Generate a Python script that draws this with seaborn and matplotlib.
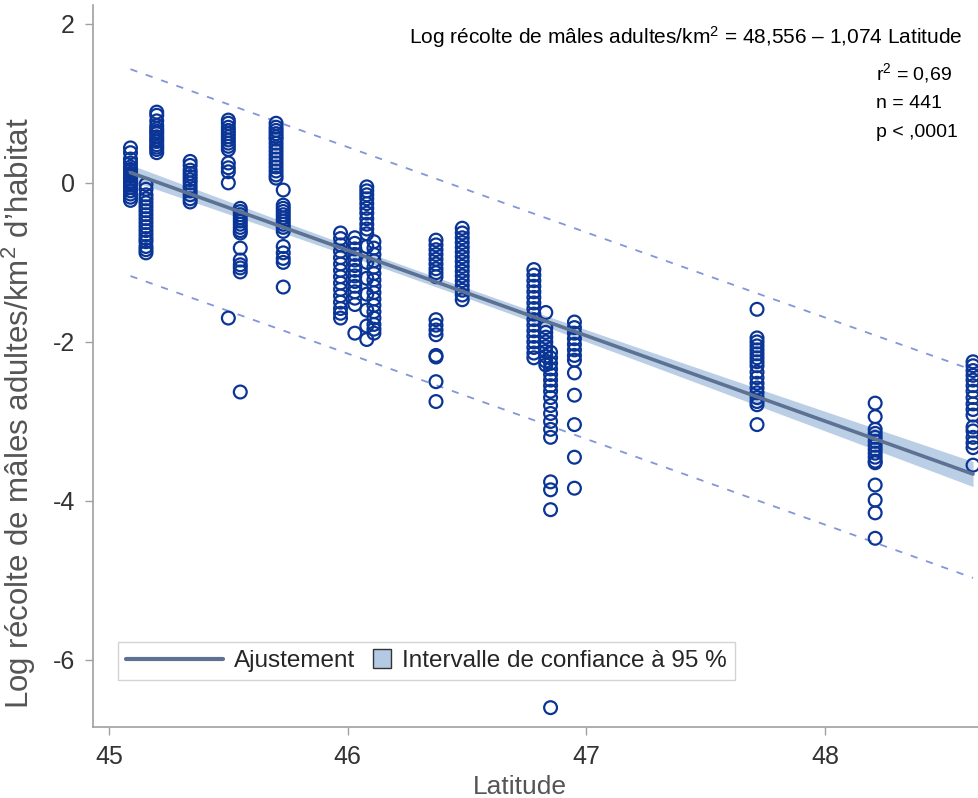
import numpy as np
import pandas as pd
import matplotlib
matplotlib.use('Agg')
import matplotlib.pyplot as plt
from matplotlib.lines import Line2D
from matplotlib.patches import Patch, Rectangle
from matplotlib.legend_handler import HandlerPatch
import seaborn as sns

# latitudes des sites et log récolte
latitudes = [45.09, 45.155, 45.20, 45.34, 45.50, 45.55, 45.70, 45.73, 45.97, 46.03,
             46.08, 46.11, 46.37, 46.48, 46.78, 46.83, 46.85, 46.95, 47.715, 48.21, 48.62]
recolte = [
    [0.44, 0.38, 0.30, 0.25, 0.20, 0.17, 0.15, 0.12, 0.10, 0.08, 0.05, 0.02, 0.0, -0.03, -0.06, -0.10, -0.14, -0.18, -0.22],
    [-0.02, -0.08, -0.15, -0.20, -0.25, -0.30, -0.35, -0.40, -0.45, -0.50, -0.55, -0.60, -0.65, -0.70, -0.74, -0.80, -0.84, -0.88],
    [0.89, 0.85, 0.78, 0.72, 0.68, 0.65, 0.62, 0.58, 0.55, 0.52, 0.48, 0.45, 0.42, 0.38],
    [0.27, 0.22, 0.16, 0.12, 0.08, 0.04, 0.0, -0.05, -0.10, -0.15, -0.20, -0.24],
    [0.79, 0.75, 0.70, 0.66, 0.62, 0.58, 0.54, 0.50, 0.46, 0.42, 0.25, 0.19, 0.14, 0.0, -1.70],
    [-0.32, -0.36, -0.40, -0.44, -0.48, -0.52, -0.56, -0.60, -0.63, -0.82, -0.97, -1.03, -1.07, -1.12, -2.63],
    [0.75, 0.70, 0.66, 0.62, 0.58, 0.55, 0.50, 0.45, 0.40, 0.35, 0.30, 0.25, 0.20, 0.15, 0.10, 0.06],
    [-0.09, -0.28, -0.32, -0.36, -0.40, -0.44, -0.48, -0.52, -0.56, -0.61, -0.80, -0.88, -0.95, -1.00, -1.31],
    [-0.63, -0.70, -0.78, -0.86, -0.94, -1.02, -1.10, -1.18, -1.26, -1.34, -1.42, -1.50, -1.58, -1.64, -1.70],
    [-0.69, -0.76, -0.83, -0.90, -0.97, -1.04, -1.10, -1.17, -1.24, -1.30, -1.37, -1.45, -1.53, -1.89],
    [-0.05, -0.10, -0.15, -0.20, -0.26, -0.32, -0.38, -0.45, -0.52, -0.58, -0.64, -0.80, -1.00, -1.20, -1.40, -1.60, -1.80, -1.97],
    [-0.74, -0.82, -0.90, -0.98, -1.06, -1.14, -1.22, -1.30, -1.38, -1.46, -1.54, -1.62, -1.70, -1.78, -1.84, -1.89],
    [-0.72, -0.78, -0.84, -0.90, -0.96, -1.02, -1.08, -1.13, -1.18, -1.72, -1.79, -1.85, -1.91, -2.17, -2.19, -2.50, -2.75],
    [-0.57, -0.63, -0.69, -0.75, -0.81, -0.87, -0.93, -0.99, -1.05, -1.11, -1.17, -1.23, -1.29, -1.35, -1.41, -1.47],
    [-1.09, -1.16, -1.23, -1.30, -1.37, -1.44, -1.51, -1.58, -1.65, -1.72, -1.79, -1.86, -1.93, -2.00, -2.07, -2.14, -2.20],
    [-1.63, -1.82, -1.88, -1.94, -2.00, -2.06, -2.12, -2.18, -2.24, -2.29],
    [-2.13, -2.20, -2.27, -2.34, -2.41, -2.48, -2.55, -2.62, -2.70, -2.80, -2.90, -3.00, -3.10, -3.20, -3.76, -3.86, -4.11, -6.60],
    [-1.75, -1.82, -1.89, -1.96, -2.03, -2.10, -2.17, -2.23, -2.39, -2.67, -3.04, -3.45, -3.84],
    [-1.59, -1.95, -2.00, -2.05, -2.10, -2.15, -2.20, -2.25, -2.30, -2.38, -2.45, -2.52, -2.58, -2.64, -2.70, -2.75, -2.79, -3.04],
    [-2.77, -2.94, -3.10, -3.15, -3.20, -3.25, -3.30, -3.35, -3.40, -3.45, -3.50, -3.52, -3.80, -3.99, -4.15, -4.47],
    [-2.25, -2.30, -2.36, -2.42, -2.48, -2.55, -2.62, -2.70, -2.78, -2.85, -2.92, -3.07, -3.12, -3.20, -3.27, -3.33, -3.55],
]

# coefficients affichés
intercept = 48.556
pente = -1.074
rmse = 0.66
n_obs = 441
stats = ['r$^2$ = 0,69', 'n = 441', 'p < ,0001']

rows = [(lat, v) for lat, vals in zip(latitudes, recolte) for v in vals]
df = pd.DataFrame(rows, columns=['Latitude', 'LogRecolte'])

xs = np.linspace(df['Latitude'].min(), df['Latitude'].max(), 100)
fit = intercept + pente * xs
xbar = df['Latitude'].mean()
sxx = df['Latitude'].var() * n_obs
se_fit = rmse * np.sqrt(1 / n_obs + (xs - xbar) ** 2 / sxx)
se_pred = rmse * np.sqrt(1 + 1 / n_obs + (xs - xbar) ** 2 / sxx)
t = 1.965
fit_df = pd.DataFrame({'x': xs, 'fit': fit,
                       'upper': fit + t * se_pred, 'lower': fit - t * se_pred})

sns.set_theme(style='white')
plt.rcParams['font.family'] = ['Liberation Sans', 'DejaVu Sans']
plt.rcParams['mathtext.fontset'] = 'custom'
plt.rcParams['mathtext.rm'] = 'Liberation Sans'
plt.rcParams['mathtext.it'] = 'Liberation Sans'

fig = plt.figure(figsize=(9.79, 7.98), dpi=100)
ax = fig.add_axes([0.095, 0.089, 0.905, 0.905])

fit_col = '#5d7292'
band_col = '#b3c9e4'
pred_col = '#8495d8'
pt_col = '#0a3596'

ax.fill_between(xs, fit - t * se_fit, fit + t * se_fit, color=band_col, alpha=0.9, lw=0, zorder=1)
sns.scatterplot(data=df, x='Latitude', y='LogRecolte', ax=ax, marker='o', s=85,
                facecolor='none', edgecolor=pt_col, linewidth=1.6, zorder=3, legend=False)
sns.lineplot(data=fit_df, x='x', y='fit', ax=ax, color=fit_col, lw=2.6, zorder=4)
sns.lineplot(data=fit_df, x='x', y='upper', ax=ax, color=pred_col, lw=1.3, ls=(0, (4, 5)), zorder=2)
sns.lineplot(data=fit_df, x='x', y='lower', ax=ax, color=pred_col, lw=1.3, ls=(0, (4, 5)), zorder=2)

ax.set_xlim(44.933, 48.645)
ax.set_ylim(-6.843, 2.24)
ax.set_xticks([45, 46, 47, 48])
ax.set_yticks([-6, -4, -2, 0, 2])
ax.set_xticklabels(['45', '46', '47', '48'])
ax.set_yticklabels(['-6', '-4', '-2', '0', '2'])
ax.tick_params(axis='both', direction='out', length=6, width=1, color='#a0a0a0',
               labelsize=18, labelcolor='#333333', bottom=True, left=True, pad=7)

for side in ['top', 'right']:
    ax.spines[side].set_visible(False)
for side in ['left', 'bottom']:
    ax.spines[side].set_color('#a0a0a0')
    ax.spines[side].set_linewidth(1.2)

ax.set_xlabel('Latitude', fontsize=19, color='#555555')
ax.set_ylabel('Log récolte de mâles adultes/km$^2$ d’habitat', fontsize=22.5, color='#555555')
ax.xaxis.set_label_coords(0.482, -0.066)
ax.yaxis.set_label_coords(-0.062, 0.435)

ax.text(0.982, 0.946, 'Log récolte de mâles adultes/km$^2$ = 48,556 – 1,074 Latitude',
        transform=ax.transAxes, ha='right', va='baseline', fontsize=15, color='black')
for i, s in enumerate(stats):
    ax.text(0.884, 0.896 - i * 0.0395, s, transform=ax.transAxes, ha='left', va='baseline',
            fontsize=14, color='black')


def petit_carre(legend, orig_handle, xdescent, ydescent, width, height, fontsize):
    h = height * 1.1
    return Rectangle((-xdescent + width - h, -ydescent - 0.05 * height), h, h)


handles = [Line2D([0], [0], color=fit_col, lw=3),
           Patch(facecolor=band_col, edgecolor='#333333', lw=1)]
leg = ax.legend(handles, ['Ajustement', 'Intervalle de confiance à 95 %'], loc='lower left',
                bbox_to_anchor=(0.028, 0.065), borderaxespad=0, ncol=2, frameon=True,
                fancybox=False, handlelength=4, handleheight=0.7, columnspacing=-2.5,
                handletextpad=0.45, borderpad=0.32, prop={'size': 17.5},
                handler_map={Patch: HandlerPatch(patch_func=petit_carre)})
leg.get_frame().set_edgecolor('#c8c8c8')
leg.get_frame().set_linewidth(1)

fig.savefig('out.png', dpi=100)
